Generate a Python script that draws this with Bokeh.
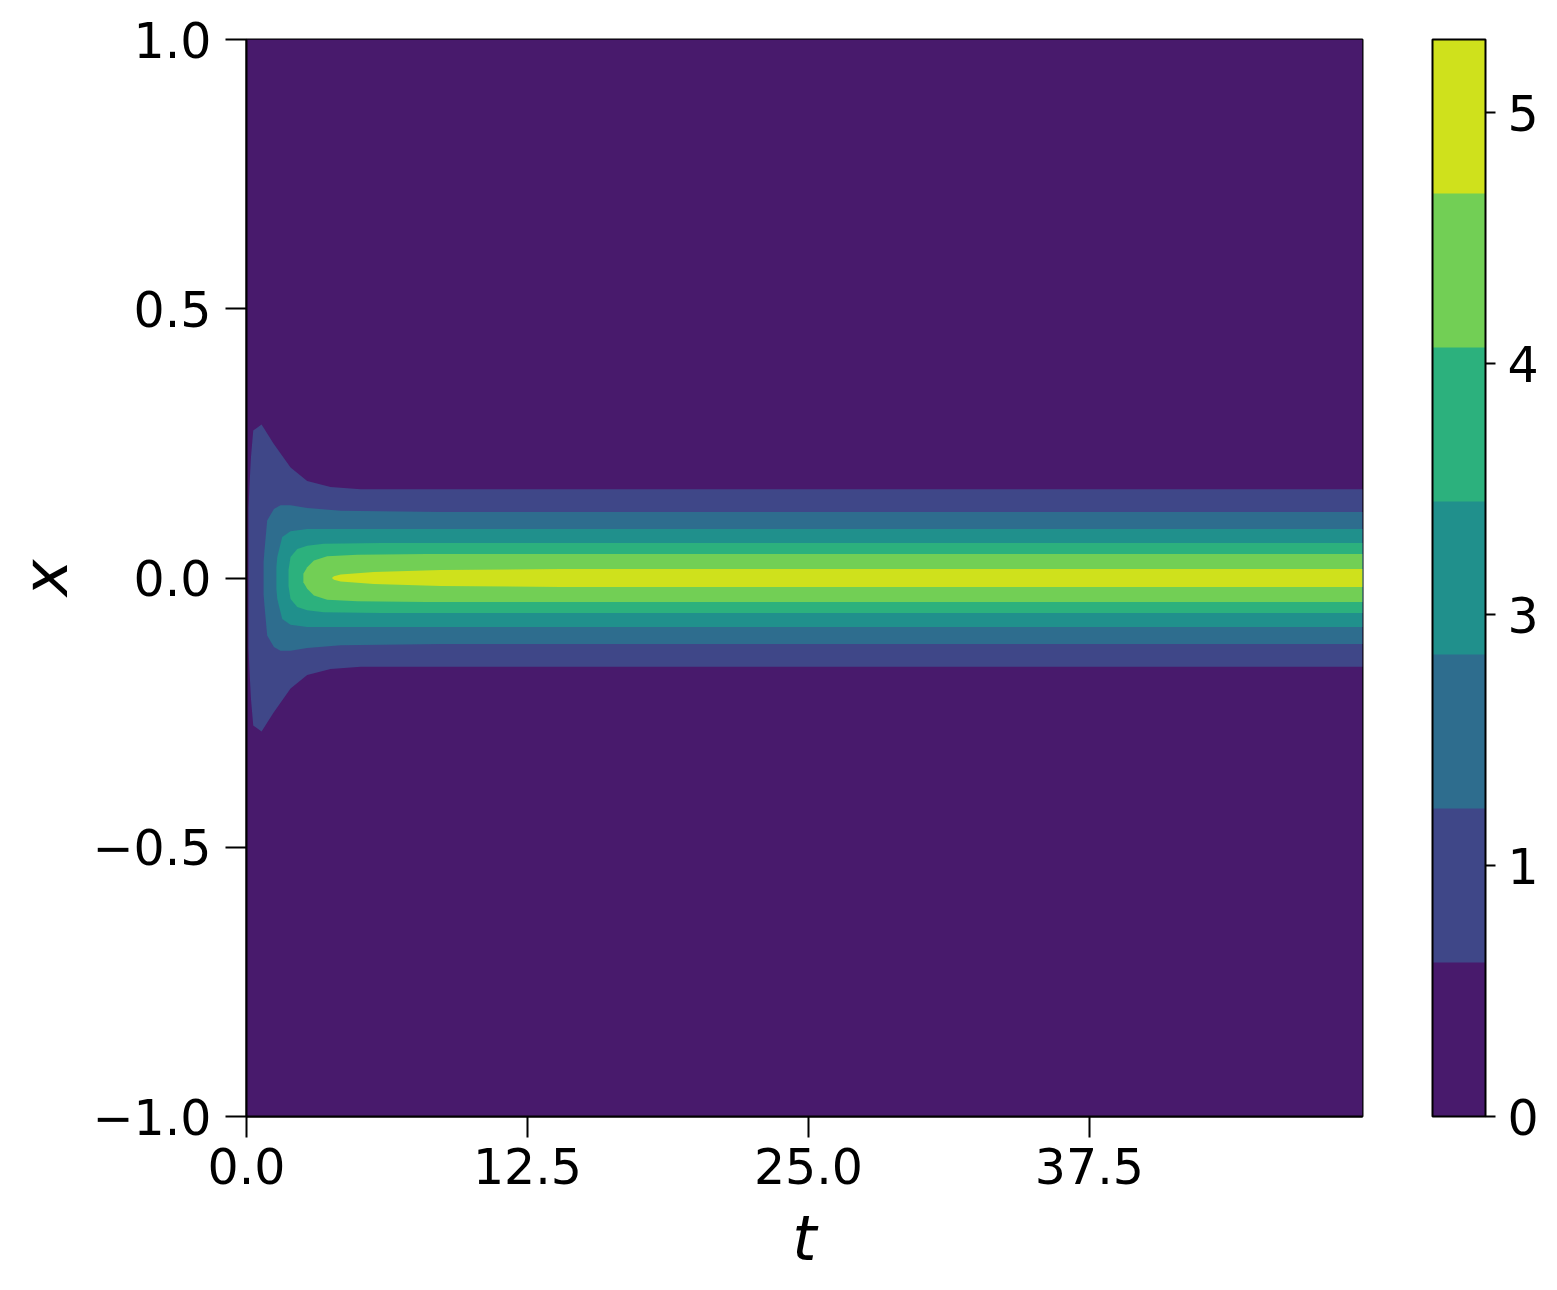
from bokeh.plotting import figure
from bokeh.models import (Range1d, ColorBar, LinearColorMapper, FixedTicker,
                          PrintfTickFormatter)
from bokeh.embed import file_html
from bokeh.resources import INLINE
from bokeh.palettes import Viridis256

# ---------------- data ----------------
T_MAX = 49.65
X_MIN, X_MAX = -1.0, 1.0

# contour levels of the filled-contour plot
levels = [0.0, 0.8175, 1.635, 2.4525, 3.27, 4.0875, 4.905, 5.7225]

# each filled band = region where u(t, x) >= level k ; described by its
# outline: time samples and half-width in x (the field is symmetric in x)
band0_t = [0.0, 49.65]
band0_w = [1.0, 1.0]

band1_t = [0.09, 0.13, 0.20, 0.30, 0.67, 1.20, 1.96, 2.70, 3.74, 5.08, 7.0, 49.65]
band1_w = [0.13, 0.17, 0.225, 0.274, 0.285, 0.250, 0.205, 0.180, 0.169, 0.165, 0.165, 0.165]

band2_t = [0.76, 0.80, 0.92, 1.22, 1.51, 1.96, 2.70, 4.19, 8.64, 49.65]
band2_w = [0.03, 0.051, 0.107, 0.128, 0.135, 0.135, 0.130, 0.125, 0.1226, 0.1226]

band3_t = [1.33, 1.37, 1.59, 1.96, 2.70, 49.65]
band3_w = [0.02, 0.039, 0.076, 0.087, 0.091, 0.091]

band4_t = [1.87, 1.96, 2.26, 2.70, 3.44, 6.0, 49.65]
band4_w = [0.015, 0.039, 0.054, 0.060, 0.0635, 0.065, 0.065]

band5_t = [2.53, 2.70, 3.00, 3.59, 4.93, 8.0, 49.65]
band5_w = [0.008, 0.020, 0.0325, 0.0405, 0.043, 0.0446, 0.0446]

band6_t = [3.80, 3.89, 4.19, 5.67, 8.64, 14.0, 49.65]
band6_w = [0.0, 0.0034, 0.0065, 0.011, 0.015, 0.0167, 0.0167]

x_ticks = [0.0, 12.5, 25.0, 37.5]
x_tick_labels = ["0.0", "12.5", "25.0", "37.5"]
y_ticks = [-1.0, -0.5, 0.0, 0.5, 1.0]
y_tick_labels = ["\u22121.0", "\u22120.5", "0.0", "0.5", "1.0"]
cbar_ticks = [0.0, 4.0 / 3.0, 8.0 / 3.0, 4.0, 16.0 / 3.0]

# ---------------- colours (viridis sampled at band midpoints) ----------------
n_bands = len(levels) - 1
band_colors = [Viridis256[int((k + 0.5) / n_bands * 256)] for k in range(n_bands)]

bands = [(band0_t, band0_w), (band1_t, band1_w), (band2_t, band2_w),
         (band3_t, band3_w), (band4_t, band4_w), (band5_t, band5_w),
         (band6_t, band6_w)]

# ---------------- figure ----------------
p = figure(frame_width=1116, frame_height=1077,
           min_border_left=246, min_border_top=39, min_border_bottom=162,
           min_border_right=180,
           x_range=Range1d(0, T_MAX), y_range=Range1d(X_MIN, X_MAX),
           output_backend="svg", toolbar_location=None)

for k, (bt, bw) in enumerate(bands):
    p.varea(x=bt, y1=[-w for w in bw], y2=bw, fill_color=band_colors[k],
            fill_alpha=1.0)

p.xgrid.visible = False
p.ygrid.visible = False
p.outline_line_color = "black"
p.outline_line_width = 2
p.background_fill_color = "white"

FONT = "DejaVu Sans"
for ax in (p.xaxis[0], p.yaxis[0]):
    ax.axis_line_color = "black"
    ax.axis_line_width = 2
    ax.major_tick_line_color = "black"
    ax.major_tick_line_width = 2
    ax.major_tick_out = 21
    ax.major_tick_in = 0
    ax.minor_tick_line_color = None
    ax.major_label_text_font = FONT
    ax.major_label_text_font_size = "49px"
    ax.major_label_text_color = "black"
    ax.axis_label_text_font = FONT
    ax.axis_label_text_font_size = "62px"
    ax.axis_label_text_font_style = "italic"
    ax.axis_label_text_color = "black"

p.xaxis.ticker = FixedTicker(ticks=x_ticks)
p.xaxis.major_label_overrides = dict(zip(x_ticks, x_tick_labels))
p.yaxis.ticker = FixedTicker(ticks=y_ticks)
p.yaxis.major_label_overrides = dict(zip(y_ticks, y_tick_labels))
p.xaxis.axis_label = "t"
p.yaxis.axis_label = "x"
p.xaxis.major_label_standoff = 10
p.yaxis.major_label_standoff = 14
p.xaxis.axis_label_standoff = 15
p.yaxis.axis_label_standoff = 8

mapper = LinearColorMapper(palette=band_colors, low=levels[0], high=levels[-1])
cb = ColorBar(color_mapper=mapper, location=(1186, 0), width=53, height=1077,
              padding=0, margin=0,
              ticker=FixedTicker(ticks=cbar_ticks),
              formatter=PrintfTickFormatter(format="%.0f"),
              major_label_text_font=FONT, major_label_text_font_size="49px",
              major_label_text_color="black",
              major_tick_out=10, major_tick_in=0,
              major_tick_line_color="black", major_tick_line_width=2,
              minor_tick_line_color=None,
              bar_line_color="black", bar_line_width=2,
              label_standoff=12, background_fill_alpha=0,
              border_line_color=None)
p.add_layout(cb)

open("out.html", "w").write(file_html(p, INLINE))
